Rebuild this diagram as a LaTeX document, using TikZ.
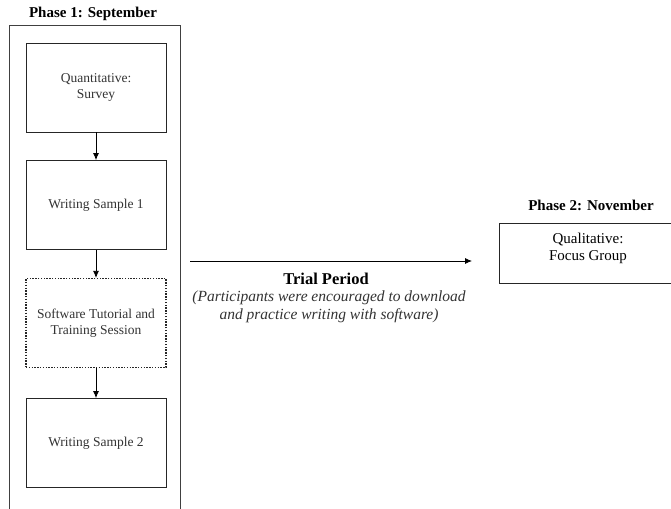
\documentclass[tikz,border=0pt]{standalone}
\usepackage{fontspec}
\setmainfont{Liberation Serif}
\usetikzlibrary{arrows.meta}
\begin{document}
\begin{tikzpicture}[x=1pt,y=-1pt,
  frame/.style={draw=black!75, line width=0.9pt},
  stepbox/.style={draw=black!85, line width=0.8pt, minimum width=140pt, minimum height=89pt, align=center, font=\fontsize{13.5}{15.5}\selectfont, text=black!80},
  dotbox/.style={stepbox, dash pattern=on 1.4pt off 1.4pt, line width=1.2pt},
  flow/.style={-{Latex[length=7pt,width=6pt]}, line width=0.8pt},
  title/.style={font=\bfseries\fontsize{15}{17}\selectfont}]
\useasboundingbox (0,0) rectangle (671,508);
\fill[white] (0,0) rectangle (671,508);
% outer frame (open at bottom)
\draw[frame] (9,510) -- (9,25.5) -- (180,25.5) -- (180,510);
\node[title] (t1) at (93,14) {Phase 1: September};
\node[stepbox] (b1) at (96,87.5) {Quantitative:\\Survey};
\node[stepbox] (b2) at (96,205) {Writing Sample 1};
\node[dotbox] (b3) at (96,323) {Software Tutorial and\\Training Session};
\node[stepbox] (b4) at (96,443) {Writing Sample 2};
\draw[flow] (b1) -- (b2);
\draw[flow] (b2) -- (b3);
\draw[flow] (b3) -- (b4);
% phase 2
\node[title] (t2) at (591,205) {Phase 2: November};
\node[draw=black!85, line width=1pt, minimum width=175pt, minimum height=60pt, anchor=west] (p2) at (499,253) {};
\node[align=center, font=\fontsize{15}{17}\selectfont] (p2t) at (588,248) {Qualitative:\\Focus Group};
% trial period arrow
\coordinate (as) at (190,261);
\coordinate (ae) at (472,261);
\draw[flow] (as) -- (ae);
\node[font=\bfseries\fontsize{16.5}{18}\selectfont] (tp) at (326,279) {Trial Period};
\node[align=center, font=\itshape\fontsize{15.5}{18}\selectfont, text=black!80] (tpd) at (329,307) {(Participants were encouraged to download\\and practice writing with software)};
\end{tikzpicture}
\end{document}
